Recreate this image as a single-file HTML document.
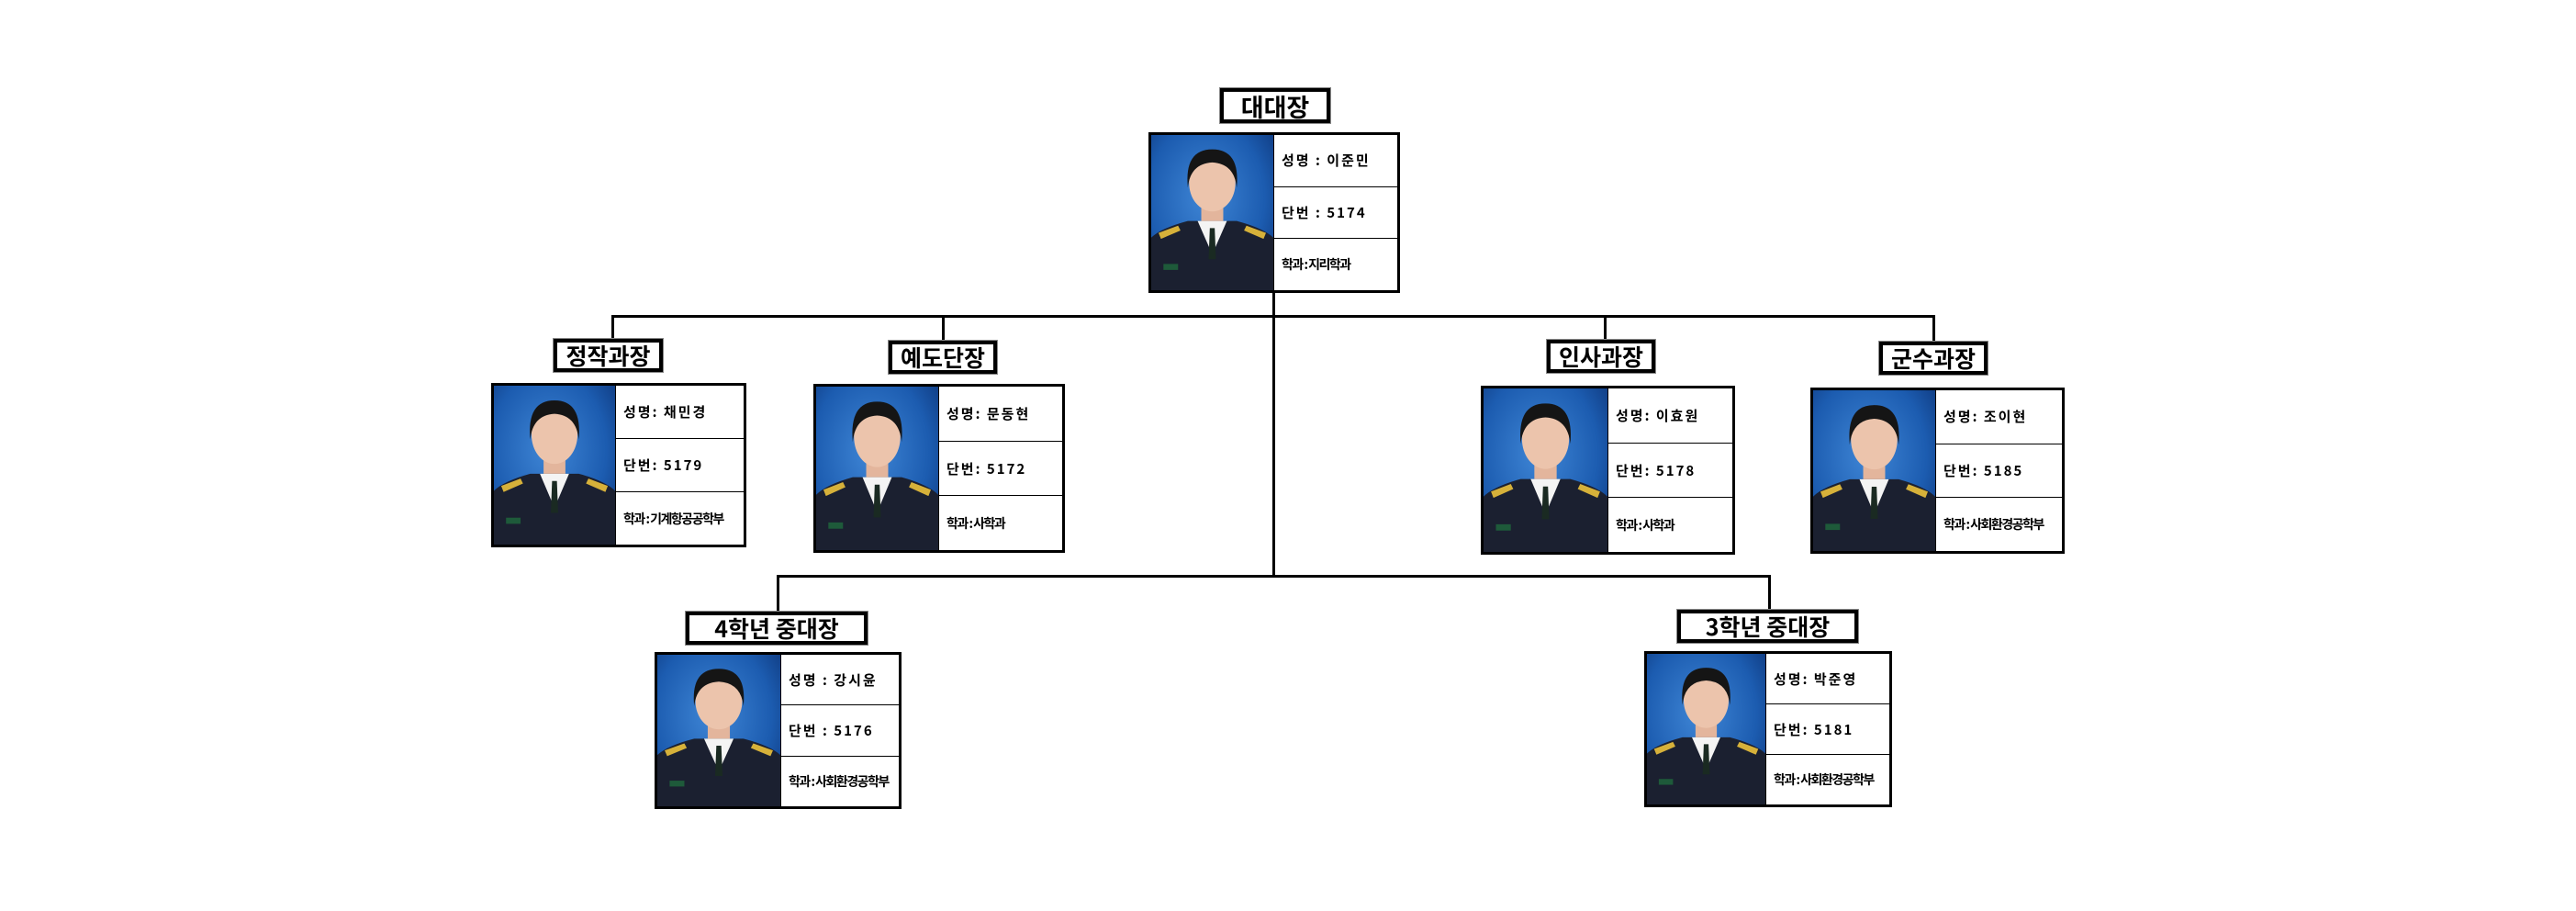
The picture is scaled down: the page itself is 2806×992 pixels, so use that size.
<!DOCTYPE html>
<html><head><meta charset="utf-8">
<style>
body{margin:0;background:#fff;}
#c{position:relative;width:2806px;height:992px;background:#fff;overflow:hidden;font-family:"Liberation Sans","Noto Sans CJK KR",sans-serif;}
.ln{position:absolute;background:#000;}
.t{position:absolute;box-sizing:border-box;border:4px solid #000;outline:1px solid #888;background:#fff;display:flex;align-items:center;justify-content:center;font-weight:bold;font-size:25px;color:#000;font-family:"Noto Sans CJK KR",sans-serif;white-space:nowrap;}
.card{position:absolute;box-sizing:border-box;border:3px solid #000;background:#fff;display:flex;}
.ph{height:100%;flex:none;border-right:1px solid #000;}
.ph svg{display:block;width:100%;height:100%;}
.info{flex:1;display:flex;flex-direction:column;overflow:hidden;}
.info div{flex:1;border-bottom:1px solid #000;display:flex;align-items:center;padding-left:8px;font-weight:bold;font-size:15px;letter-spacing:2px;font-family:"Noto Sans CJK KR",sans-serif;white-space:nowrap;}
.info div:last-child{border-bottom:none;letter-spacing:-1.5px;font-size:14px;}
</style></head><body>
<div id="c">
<svg width="0" height="0" style="position:absolute">
<defs>
<radialGradient id="bg" cx="0.45" cy="0.4" r="0.8"><stop offset="0" stop-color="#3f86d6"/><stop offset="0.6" stop-color="#1c5cb0"/><stop offset="1" stop-color="#0b2f70"/></radialGradient>
<g id="p">
<rect width="100" height="130" fill="url(#bg)"/>
<rect x="41" y="58" width="18" height="20" fill="#e3b59c"/>
<path d="M0 130 L0 86 Q8 78 30 72 L70 72 Q92 78 100 86 L100 130Z" fill="#1b2030"/>
<polygon points="38,72 50,100 62,72" fill="#f4f4f4"/>
<polygon points="48,78 52,78 53,104 47,104" fill="#1a2a22"/>
<polygon points="6,82 22,76 24,80 8,87" fill="#d6b13a"/>
<polygon points="78,76 94,82 92,87 76,80" fill="#d6b13a"/>
<rect x="10" y="108" width="12" height="5" fill="#1e5a3a"/>
<ellipse cx="50" cy="40" rx="19" ry="24" fill="#ecc4ac"/>
<path d="M30 44 Q27 12 50 12 Q73 12 70 44 Q68 24 50 23 Q32 24 30 44Z" fill="#151515"/>
</g>
</defs>
</svg>

<div class="ln" style="left:1386px;top:319px;width:3px;height:310px"></div>
<div class="ln" style="left:666px;top:343px;width:1442px;height:3px"></div>
<div class="ln" style="left:666px;top:343px;width:3px;height:27px"></div>
<div class="ln" style="left:1026px;top:343px;width:3px;height:29px"></div>
<div class="ln" style="left:1747px;top:343px;width:3px;height:28px"></div>
<div class="ln" style="left:2105px;top:343px;width:3px;height:30px"></div>
<div class="ln" style="left:846px;top:626px;width:1083px;height:3px"></div>
<div class="ln" style="left:846px;top:626px;width:3px;height:41px"></div>
<div class="ln" style="left:1926px;top:626px;width:3px;height:39px"></div>

<div class="t" style="left:1329px;top:96px;width:120px;height:38px;font-size:27px">대대장</div>
<div class="t" style="left:603px;top:369px;width:119px;height:36px">정작과장</div>
<div class="t" style="left:968px;top:371px;width:118px;height:36px">예도단장</div>
<div class="t" style="left:1685px;top:370px;width:118px;height:36px">인사과장</div>
<div class="t" style="left:2047px;top:372px;width:118px;height:36px">군수과장</div>
<div class="t" style="left:747px;top:666px;width:198px;height:36px">4학년 중대장</div>
<div class="t" style="left:1827px;top:664px;width:197px;height:36px">3학년 중대장</div>

<div class="card" style="left:1251px;top:144px;width:274px;height:175px">
<div class="ph" style="width:133px"><svg viewBox="0 0 100 130" preserveAspectRatio="none"><use href="#p"/></svg></div>
<div class="info"><div>성명 : 이준민</div><div>단번 : 5174</div><div>학과 : 지리학과</div></div></div>

<div class="card" style="left:535px;top:417px;width:278px;height:179px">
<div class="ph" style="width:132px"><svg viewBox="0 0 100 130" preserveAspectRatio="none"><use href="#p"/></svg></div>
<div class="info"><div>성명: 채민경</div><div>단번: 5179</div><div>학과 : 기계항공공학부</div></div></div>

<div class="card" style="left:886px;top:418px;width:274px;height:184px">
<div class="ph" style="width:133px"><svg viewBox="0 0 100 130" preserveAspectRatio="none"><use href="#p"/></svg></div>
<div class="info"><div>성명: 문동현</div><div>단번: 5172</div><div>학과 : 사학과</div></div></div>

<div class="card" style="left:1613px;top:420px;width:277px;height:184px">
<div class="ph" style="width:135px"><svg viewBox="0 0 100 130" preserveAspectRatio="none"><use href="#p"/></svg></div>
<div class="info"><div>성명: 이효원</div><div>단번: 5178</div><div>학과 : 사학과</div></div></div>

<div class="card" style="left:1972px;top:422px;width:277px;height:181px">
<div class="ph" style="width:133px"><svg viewBox="0 0 100 130" preserveAspectRatio="none"><use href="#p"/></svg></div>
<div class="info"><div>성명: 조이현</div><div>단번: 5185</div><div>학과 : 사회환경공학부</div></div></div>

<div class="card" style="left:713px;top:710px;width:269px;height:171px">
<div class="ph" style="width:134px"><svg viewBox="0 0 100 130" preserveAspectRatio="none"><use href="#p"/></svg></div>
<div class="info"><div>성명 : 강시윤</div><div>단번 : 5176</div><div>학과 : 사회환경공학부</div></div></div>

<div class="card" style="left:1791px;top:709px;width:270px;height:170px">
<div class="ph" style="width:129px"><svg viewBox="0 0 100 130" preserveAspectRatio="none"><use href="#p"/></svg></div>
<div class="info"><div>성명: 박준영</div><div>단번: 5181</div><div>학과 : 사회환경공학부</div></div></div>

</div>
</body></html>
